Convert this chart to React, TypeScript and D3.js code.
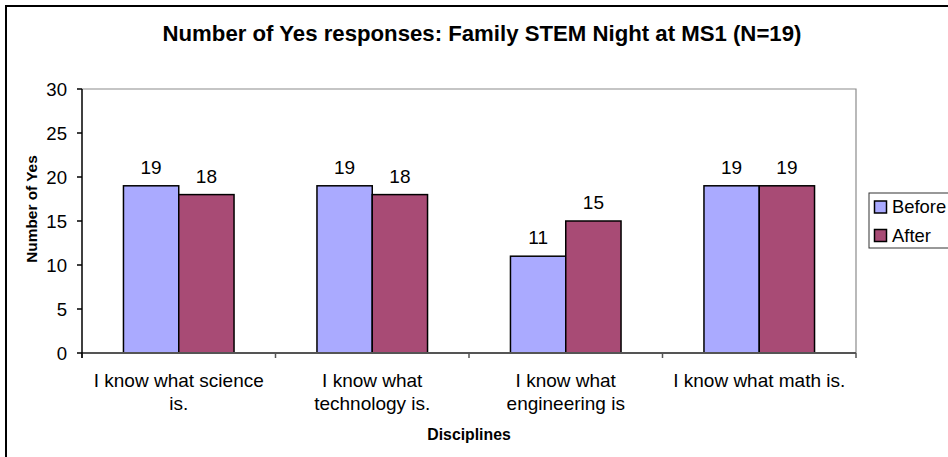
import React from "react";
import * as d3 from "d3";

const categories = [
  ["I know what science", "is."],
  ["I know what", "technology is."],
  ["I know what", "engineering is"],
  ["I know what math is."],
];
const categoryKeys = ["science", "technology", "engineering", "math"];
const seriesNames = ["Before", "After"];
const beforeValues = [19, 19, 11, 19];
const afterValues = [18, 18, 15, 19];
const yTicks = [0, 5, 10, 15, 20, 25, 30];
const colors = ["#AAAAFF", "#A84B75"];

const W = 948;
const H = 457;
const FONT = "'Liberation Sans', Arial, sans-serif";

export default function App() {
  const left = 82, right = 856, top = 89, bottom = 353;
  const x = d3.scaleBand<string>().domain(categoryKeys).range([left, right]).padding(0);
  const inner = d3
    .scaleBand<string>()
    .domain(seriesNames)
    .range([0, x.bandwidth()])
    .paddingInner(0)
    .paddingOuter(0.75);
  const y = d3.scaleLinear().domain([0, 30]).range([bottom, top]);
  const series = [beforeValues, afterValues];
  const boundaries = [...categoryKeys.map((k) => x(k) as number), right];

  return (
    <div style={{ position: "absolute", left: 0, top: 0 }}>
      <svg width={W} height={H} style={{ display: "block", fontFamily: FONT }}>
        <rect x={0} y={0} width={W} height={H} fill="#fff" />
        <rect x={6} y={6} width={970} height={480} fill="#fff" stroke="#000" strokeWidth={2} />
        <text x={482} y={41} textAnchor="middle" fontSize={22.2} fontWeight="bold" fill="#000">
          Number of Yes responses: Family STEM Night at MS1 (N=19)
        </text>
        {/* plot area border top/right */}
        <path d={`M${left},${top}H${right}V${bottom}`} fill="none" stroke="#8c8c8c" strokeWidth={1.2} />
        {/* bars */}
        {series.map((vals, si) =>
          vals.map((v, ci) => {
            const bx = (x(categoryKeys[ci]) as number) + (inner(seriesNames[si]) as number);
            const bw = inner.bandwidth();
            return (
              <g key={`${si}-${ci}`}>
                <rect x={bx} y={y(v)} width={bw} height={bottom - y(v)} fill={colors[si]} stroke="#000" strokeWidth={1.5} />
                <text x={bx + bw / 2} y={y(v) - 12} textAnchor="middle" fontSize={19} fill="#000">
                  {v}
                </text>
              </g>
            );
          })
        )}
        {/* x axis */}
        <line x1={left} x2={right} y1={bottom} y2={bottom} stroke="#555" strokeWidth={2} />
        {boundaries.map((bx, i) => (
          <line key={i} x1={bx} x2={bx} y1={bottom} y2={bottom + 5} stroke="#555" strokeWidth={1.5} />
        ))}
        {/* y axis */}
        <line x1={left} x2={left} y1={top} y2={bottom + 5} stroke="#000" strokeWidth={1.5} />
        {yTicks.map((t) => (
          <g key={t}>
            <line x1={left - 5} x2={left} y1={y(t)} y2={y(t)} stroke="#000" strokeWidth={1.5} />
            <text x={67} y={y(t) + 6.5} textAnchor="end" fontSize={18.6} fill="#000">
              {t}
            </text>
          </g>
        ))}
        {/* category labels */}
        {categories.map((lines, ci) => {
          const cx = (x(categoryKeys[ci]) as number) + x.bandwidth() / 2;
          return (
            <text key={ci} textAnchor="middle" fontSize={19} fill="#000">
              {lines.map((ln, li) => (
                <tspan key={li} x={cx} y={387 + li * 23.3}>
                  {ln}
                </tspan>
              ))}
            </text>
          );
        })}
        <text x={(left + right) / 2} y={440} textAnchor="middle" fontSize={15.8} fontWeight="bold" fill="#000">
          Disciplines
        </text>
        <text
          transform={`translate(37,209) rotate(-90)`}
          textAnchor="middle"
          fontSize={15.4}
          fontWeight="bold"
          fill="#000"
        >
          Number of Yes
        </text>
        {/* legend */}
        <rect x={869} y={193} width={100} height={55} fill="#fff" stroke="#333" strokeWidth={1} />
        {seriesNames.map((s, i) => (
          <g key={s}>
            <rect x={874.5} y={201 + i * 28.5} width={12} height={12} fill={colors[i]} stroke="#000" strokeWidth={1.5} />
            <text x={892} y={213 + i * 28.5} fontSize={18.4} fill="#000">
              {s}
            </text>
          </g>
        ))}
      </svg>
    </div>
  );
}
